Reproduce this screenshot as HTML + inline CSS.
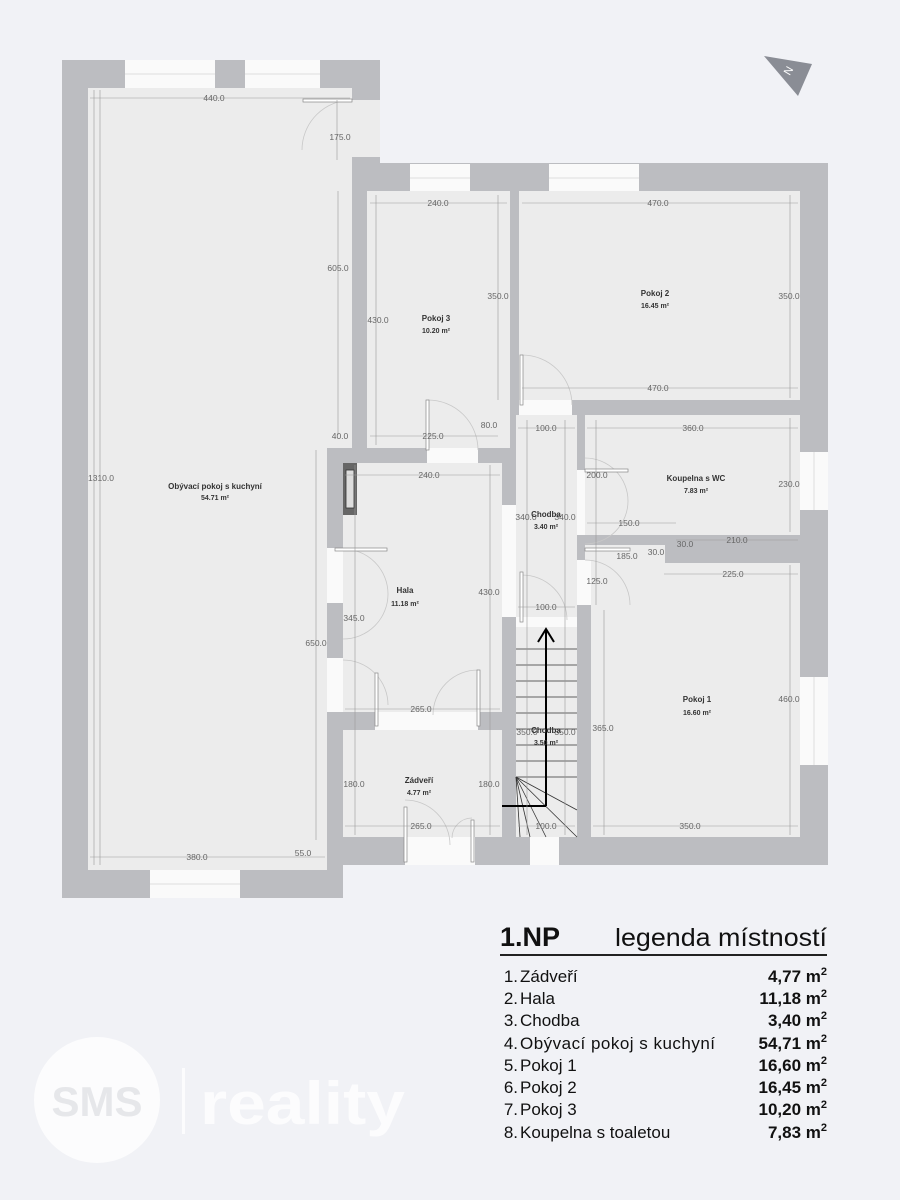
<!DOCTYPE html>
<html><head><meta charset="utf-8"><style>
html,body{margin:0;padding:0;background:#f1f2f6;}
svg{display:block}
.d{font-family:"Liberation Sans",sans-serif;font-size:8.5px;fill:#666;text-anchor:middle}
.r{font-family:"Liberation Sans",sans-serif;font-size:8px;font-weight:bold;fill:#333;text-anchor:middle}
.l{font-family:"Liberation Sans",sans-serif;font-size:17px;fill:#111}
.v{font-family:"Liberation Sans",sans-serif;font-size:17px;font-weight:bold;fill:#111;text-anchor:end}
</style></head><body>
<svg width="900" height="1200" viewBox="0 0 900 1200" xmlns="http://www.w3.org/2000/svg">
<rect width="900" height="1200" fill="#f1f2f6"/>
<polygon points="62,60 380,60 380,163 828,163 828,865 343,865 343,898 62,898" fill="#bcbdc1"/>
<g fill="#ececec">
<rect x="88" y="88" width="264" height="360"/>
<rect x="88" y="448" width="239" height="422"/>
<rect x="352" y="100" width="28" height="57"/>
<rect x="367" y="191" width="143" height="257"/>
<rect x="519" y="191" width="281" height="209"/>
<rect x="343" y="463" width="159" height="249"/>
<rect x="343" y="730" width="159" height="107"/>
<rect x="516" y="415" width="61" height="202"/>
<rect x="516" y="627" width="61" height="210"/>
<rect x="585" y="415" width="215" height="120"/>
<rect x="585" y="545" width="80" height="20"/>
<rect x="591" y="563" width="209" height="274"/>
</g>
<g fill="#fafafa">
<rect x="125" y="60" width="90" height="28"/><rect x="245" y="60" width="75" height="28"/>
<rect x="150" y="870" width="90" height="28"/>
<rect x="410" y="164" width="60" height="27"/><rect x="549" y="164" width="90" height="27"/>
<rect x="800" y="452" width="28" height="58"/><rect x="800" y="677" width="28" height="88"/>
<rect x="327" y="548" width="16" height="55"/><rect x="327" y="658" width="16" height="54"/>
<rect x="530" y="837" width="29" height="28"/><rect x="405" y="837" width="70" height="28"/>
<rect x="427" y="448" width="51" height="15"/><rect x="502" y="505" width="14" height="112"/>
<rect x="519" y="400" width="53" height="15"/><rect x="577" y="470" width="8" height="65"/>
<rect x="577" y="560" width="14" height="45"/><rect x="375" y="712" width="103" height="18"/>
<rect x="516" y="617" width="61" height="10"/>
</g>
<g stroke="#ddd" stroke-width="1"><line x1="125" y1="74" x2="215" y2="74"/><line x1="245" y1="74" x2="320" y2="74"/><line x1="150" y1="884" x2="240" y2="884"/><line x1="410" y1="178" x2="470" y2="178"/><line x1="549" y1="178" x2="639" y2="178"/><line x1="814" y1="452" x2="814" y2="510"/><line x1="814" y1="677" x2="814" y2="765"/></g>
<rect x="343" y="463" width="14" height="52" fill="#666"/><rect x="346" y="470" width="8" height="38" fill="#ddd" stroke="#333" stroke-width="0.8"/>
<g fill="none" stroke="#c8c8c8" stroke-width="0.8">
<path d="M352,100 A50,50 0 0 0 302,150"/><path d="M428,400 A50,50 0 0 1 478,450"/>
<path d="M522,355 A50,50 0 0 1 572,405"/><path d="M585,458 A43,43 0 0 1 628,501 A43,43 0 0 1 585,544"/>
<path d="M343,549 A45,45 0 0 1 388,594 A45,45 0 0 1 343,639"/><path d="M585,560 A45,45 0 0 1 630,605"/>
<path d="M343,660 A45,45 0 0 1 388,705"/><path d="M478,670 A45,45 0 0 0 433,715"/>
<path d="M405,800 A45,45 0 0 1 450,845"/><path d="M472,818 A20,20 0 0 0 452,838"/>
<path d="M522,575 A45,45 0 0 1 567,620"/>
</g>
<g fill="#fff" stroke="#888" stroke-width="0.7">
<rect x="303" y="99" width="49" height="3"/><rect x="426" y="400" width="3" height="50"/>
<rect x="520" y="355" width="3" height="50"/><rect x="585" y="469" width="43" height="3"/>
<rect x="335" y="548" width="52" height="3"/><rect x="585" y="548" width="45" height="3"/>
<rect x="375" y="673" width="3" height="53"/><rect x="477" y="670" width="3" height="56"/>
<rect x="404" y="807" width="3" height="55"/><rect x="471" y="820" width="3" height="42"/>
<rect x="520" y="572" width="3" height="50"/>
</g>
<g stroke="#333" stroke-width="0.8" fill="none">
<line x1="516" y1="649" x2="577" y2="649"/><line x1="516" y1="665" x2="577" y2="665"/><line x1="516" y1="681" x2="577" y2="681"/><line x1="516" y1="697" x2="577" y2="697"/><line x1="516" y1="713" x2="577" y2="713"/><line x1="516" y1="729" x2="577" y2="729"/><line x1="516" y1="745" x2="577" y2="745"/><line x1="516" y1="761" x2="577" y2="761"/><line x1="516" y1="777" x2="577" y2="777"/>
<line x1="516" y1="777" x2="520" y2="837"/><line x1="516" y1="777" x2="530" y2="837"/><line x1="516" y1="777" x2="546" y2="837"/><line x1="516" y1="777" x2="577" y2="837"/><line x1="516" y1="777" x2="577" y2="810"/>
<line x1="502" y1="806" x2="546" y2="806" stroke="#000" stroke-width="2"/><line x1="546" y1="806" x2="546" y2="629" stroke="#000" stroke-width="2"/>
<polyline points="538,642 546,629 554,642" stroke="#000" stroke-width="2"/>
</g>
<g stroke="#999" stroke-width="0.6">
<line x1="90" y1="98" x2="350" y2="98"/><line x1="337" y1="100" x2="337" y2="160"/><line x1="338" y1="191" x2="338" y2="435"/><line x1="100" y1="90" x2="100" y2="865"/><line x1="94" y1="90" x2="94" y2="865"/>
<line x1="316" y1="450" x2="316" y2="840"/><line x1="90" y1="857" x2="325" y2="857"/><line x1="370" y1="203" x2="507" y2="203"/><line x1="376" y1="195" x2="376" y2="445"/><line x1="498" y1="195" x2="498" y2="400"/><line x1="370" y1="436" x2="498" y2="436"/>
<line x1="522" y1="203" x2="798" y2="203"/><line x1="522" y1="388" x2="798" y2="388"/><line x1="790" y1="195" x2="790" y2="398"/><line x1="518" y1="428" x2="575" y2="428"/><line x1="587" y1="428" x2="798" y2="428"/>
<line x1="345" y1="475" x2="500" y2="475"/><line x1="790" y1="418" x2="790" y2="532"/><line x1="587" y1="523" x2="676" y2="523"/><line x1="676" y1="540" x2="798" y2="540"/><line x1="664" y1="574" x2="798" y2="574"/>
<line x1="490" y1="465" x2="490" y2="835"/><line x1="355" y1="465" x2="355" y2="835"/><line x1="345" y1="709" x2="500" y2="709"/><line x1="345" y1="826" x2="500" y2="826"/>
<line x1="790" y1="565" x2="790" y2="835"/><line x1="593" y1="826" x2="798" y2="826"/><line x1="604" y1="610" x2="604" y2="835"/><line x1="596" y1="420" x2="596" y2="605"/>
<line x1="518" y1="607" x2="575" y2="607"/><line x1="518" y1="826" x2="575" y2="826"/><line x1="527" y1="420" x2="527" y2="835"/><line x1="565" y1="420" x2="565" y2="835"/>
</g>
<g class="d">
<text x="214" y="101">440.0</text><text x="340" y="140">175.0</text><text x="338" y="271">605.0</text><text x="101" y="481">1310.0</text><text x="316" y="646">650.0</text><text x="197" y="860">380.0</text><text x="303" y="856">55.0</text><text x="340" y="439">40.0</text>
<text x="438" y="206">240.0</text><text x="378" y="323">430.0</text><text x="498" y="299">350.0</text><text x="433" y="439">225.0</text><text x="489" y="428">80.0</text><text x="429" y="478">240.0</text><text x="658" y="206">470.0</text><text x="789" y="299">350.0</text><text x="658" y="391">470.0</text><text x="546" y="431">100.0</text><text x="693" y="431">360.0</text><text x="597" y="478">200.0</text><text x="789" y="487">230.0</text><text x="526" y="520">340.0</text><text x="565" y="520">340.0</text><text x="629" y="526">150.0</text><text x="685" y="547">30.0</text><text x="737" y="543">210.0</text><text x="627" y="559">185.0</text><text x="656" y="555">30.0</text><text x="733" y="577">225.0</text><text x="597" y="584">125.0</text><text x="546" y="610">100.0</text><text x="489" y="595">430.0</text><text x="354" y="621">345.0</text><text x="421" y="712">265.0</text><text x="527" y="735">350.0</text><text x="565" y="735">350.0</text><text x="603" y="731">365.0</text><text x="789" y="702">460.0</text><text x="354" y="787">180.0</text><text x="489" y="787">180.0</text><text x="421" y="829">265.0</text><text x="546" y="829">100.0</text><text x="690" y="829">350.0</text>
</g>
<g class="r">
<text x="215" y="489">Obývací pokoj s kuchyní</text><text x="215" y="500" font-size="7">54.71 m²</text>
<text x="436" y="321">Pokoj 3</text><text x="436" y="333" font-size="7">10.20 m²</text>
<text x="655" y="296">Pokoj 2</text><text x="655" y="308" font-size="7">16.45 m²</text>
<text x="696" y="481">Koupelna s WC</text><text x="696" y="493" font-size="7">7.83 m²</text>
<text x="546" y="517">Chodba</text><text x="546" y="529" font-size="7">3.40 m²</text>
<text x="405" y="593">Hala</text><text x="405" y="606" font-size="7">11.18 m²</text>
<text x="697" y="702">Pokoj 1</text><text x="697" y="715" font-size="7">16.60 m²</text>
<text x="419" y="783">Zádveří</text><text x="419" y="795" font-size="7">4.77 m²</text>
<text x="546" y="733">Chodba</text><text x="546" y="745" font-size="7">3.50 m²</text>
</g>
<polygon points="764,56 812,64 798,96" fill="#8a8d95"/><text x="789" y="74" font-family="Liberation Sans" font-size="11" fill="#fff" transform="rotate(-60 789 71)" text-anchor="middle">N</text>
<circle cx="97" cy="1100" r="63" fill="#fcfcfd"/>
<text x="97" y="1116" font-family="Liberation Sans" font-weight="bold" font-size="42" fill="#e6e7ea" text-anchor="middle">SMS</text>
<rect x="182" y="1068" width="3" height="66" fill="#fcfcfd"/>
<text x="200" y="1124" font-family="Liberation Sans" font-weight="bold" font-size="60" fill="#fcfcfd" textLength="205" lengthAdjust="spacingAndGlyphs">reality</text>
<text x="500" y="946" font-family="Liberation Sans" font-weight="bold" font-size="27" fill="#111">1.NP</text>
<text x="615" y="946" font-family="Liberation Sans" font-size="25" fill="#111" textLength="212" lengthAdjust="spacingAndGlyphs">legenda místností</text>
<rect x="500" y="954" width="327" height="2" fill="#222"/>
<g class="l">
<text x="518" y="982" text-anchor="end">1.</text><text x="518" y="1004" text-anchor="end">2.</text><text x="518" y="1026" text-anchor="end">3.</text><text x="518" y="1049" text-anchor="end">4.</text><text x="518" y="1071" text-anchor="end">5.</text><text x="518" y="1093" text-anchor="end">6.</text><text x="518" y="1115" text-anchor="end">7.</text><text x="518" y="1138" text-anchor="end">8.</text>
</g>
<g class="l">
<text x="520" y="982">Zádveří</text><text x="520" y="1004">Hala</text><text x="520" y="1026">Chodba</text><text x="520" y="1049" textLength="195">Obývací pokoj s kuchyní</text><text x="520" y="1071">Pokoj 1</text><text x="520" y="1093">Pokoj 2</text><text x="520" y="1115">Pokoj 3</text><text x="520" y="1138">Koupelna s toaletou</text>
</g>
<g class="v">
<text x="827" y="982">4,77 m<tspan font-size="11" dy="-7">2</tspan></text>
<text x="827" y="1004">11,18 m<tspan font-size="11" dy="-7">2</tspan></text>
<text x="827" y="1026">3,40 m<tspan font-size="11" dy="-7">2</tspan></text>
<text x="827" y="1049">54,71 m<tspan font-size="11" dy="-7">2</tspan></text>
<text x="827" y="1071">16,60 m<tspan font-size="11" dy="-7">2</tspan></text>
<text x="827" y="1093">16,45 m<tspan font-size="11" dy="-7">2</tspan></text>
<text x="827" y="1115">10,20 m<tspan font-size="11" dy="-7">2</tspan></text>
<text x="827" y="1138">7,83 m<tspan font-size="11" dy="-7">2</tspan></text>
</g>
</svg>
</body></html>
